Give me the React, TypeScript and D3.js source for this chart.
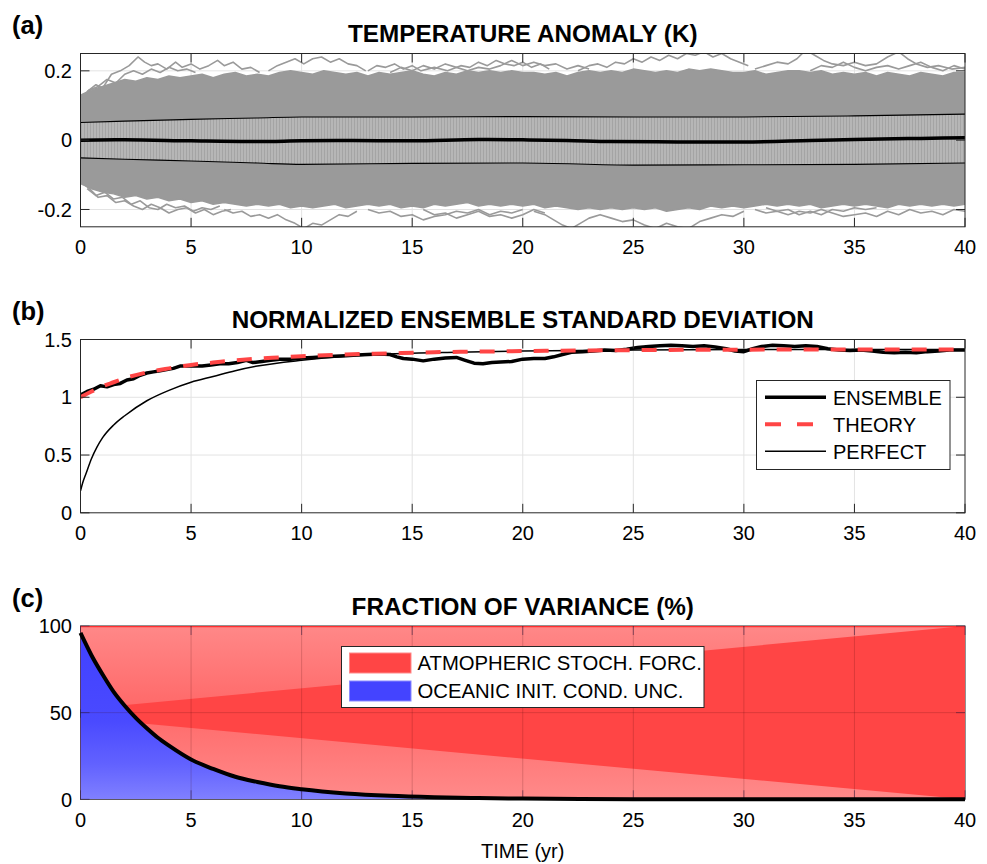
import React from 'react';
import * as d3 from 'd3';

const FONT = '"Liberation Sans", Arial, Helvetica, sans-serif';

// ---------------- data ----------------
const timeTicks = [0, 5, 10, 15, 20, 25, 30, 35, 40];
const tempTicks = [-0.2, 0, 0.2];
const tempTickLabels = ['-0.2', '0', '0.2'];
const stdTicks = [0, 0.5, 1, 1.5];
const stdTickLabels = ['0', '0.5', '1', '1.5'];
const fracTicks = [0, 50, 100];
const fracTickLabels = ['0', '50', '100'];

// (a) envelope of the ensemble members, sampled every 0.5 yr
const envStep = 0.5;
const upperEnv = [
  0.13, 0.145, 0.155, 0.165, 0.175, 0.17, 0.18, 0.175, 0.185, 0.18,
  0.185, 0.19, 0.18, 0.19, 0.195, 0.185, 0.19, 0.185, 0.195, 0.2,
  0.195, 0.19, 0.2, 0.195, 0.19, 0.195, 0.185, 0.195, 0.19, 0.195,
  0.2, 0.19, 0.185, 0.195, 0.19, 0.2, 0.195, 0.2, 0.195, 0.2,
  0.195, 0.195, 0.19, 0.195, 0.185, 0.195, 0.2, 0.195, 0.2, 0.195,
  0.205, 0.2, 0.195, 0.2, 0.195, 0.205, 0.2, 0.205, 0.2, 0.195,
  0.195, 0.2, 0.19, 0.195, 0.2, 0.2, 0.195, 0.2, 0.19, 0.195,
  0.19, 0.195, 0.185, 0.195, 0.19, 0.185, 0.195, 0.19, 0.185, 0.195,
  0.195,
];
const lowerEnv = [
  -0.125, -0.14, -0.15, -0.155, -0.165, -0.16, -0.17, -0.165, -0.175, -0.17,
  -0.18, -0.175, -0.185, -0.18, -0.185, -0.19, -0.185, -0.19, -0.185, -0.195,
  -0.19, -0.195, -0.19, -0.185, -0.195, -0.19, -0.185, -0.19, -0.185, -0.195,
  -0.19, -0.195, -0.185, -0.19, -0.185, -0.18, -0.19, -0.185, -0.19, -0.185,
  -0.19, -0.185, -0.195, -0.19, -0.195, -0.2, -0.195, -0.2, -0.195, -0.2,
  -0.195, -0.2, -0.195, -0.205, -0.2, -0.195, -0.2, -0.19, -0.195, -0.19,
  -0.195, -0.19, -0.185, -0.19, -0.185, -0.19, -0.185, -0.195, -0.19, -0.185,
  -0.19, -0.185, -0.19, -0.195, -0.185, -0.19, -0.185, -0.19, -0.185, -0.19,
  -0.185,
];
// (a) extreme members poking out of the envelope
const memberTop1 = [[0.3,0.14],[0.7,0.16],[1.0,0.15],[1.4,0.19],[1.8,0.2],[2.2,0.215],[2.6,0.24],[2.9,0.225],[3.2,0.215],[3.5,0.22],[3.9,0.205],[4.3,0.225],[4.6,0.21],[5.0,0.22],[5.4,0.205],[5.8,0.215],[6.2,0.23],[6.5,0.215],[6.9,0.225],[7.3,0.205],[7.7,0.21],[8.1,0.195]];
const memberTop2 = [[8.5,0.2],[8.9,0.215],[9.3,0.225],[9.7,0.235],[10.1,0.22],[10.5,0.235],[10.9,0.24],[11.3,0.225],[11.7,0.235],[12.1,0.22],[12.5,0.215],[12.9,0.2]];
const memberTop3 = [[13.0,0.2],[13.4,0.215],[13.8,0.21],[14.2,0.22],[14.6,0.205],[15.0,0.215],[15.4,0.2],[16.0,0.21],[16.6,0.2],[17.2,0.215],[17.6,0.21],[18.0,0.225],[18.4,0.215],[18.8,0.23],[19.2,0.22],[19.6,0.215],[20.0,0.225],[20.4,0.21],[20.8,0.22],[21.2,0.205]];
const memberTop4 = [[22.5,0.2],[23.0,0.215],[23.4,0.22],[23.8,0.21],[24.2,0.225],[24.6,0.22],[25.0,0.235],[25.4,0.225],[25.8,0.24],[26.2,0.23],[26.6,0.245],[27.0,0.235],[27.4,0.25],[27.8,0.245],[28.2,0.255],[28.6,0.24],[29.0,0.25],[29.4,0.235],[29.8,0.225],[30.2,0.215]];
const memberTop5 = [[30.5,0.205],[31.0,0.215],[31.5,0.225],[32.0,0.22],[32.4,0.235],[32.8,0.26],[33.2,0.245],[33.6,0.23],[34.0,0.22],[34.5,0.215],[35.0,0.225],[35.5,0.215],[36.0,0.22],[36.5,0.24],[37.0,0.255],[37.4,0.235],[37.8,0.22],[38.3,0.21],[38.8,0.215],[39.4,0.205],[40,0.21]];
const memberTop6 = [[0,0.12],[0.4,0.145],[0.8,0.155],[1.2,0.175],[1.6,0.165],[2.0,0.19],[2.4,0.2],[2.8,0.19],[3.2,0.205],[3.6,0.195],[4.0,0.21],[4.4,0.2],[4.8,0.205],[5.2,0.195]];
const memberTop7 = [[14,0.195],[14.5,0.21],[15,0.2],[15.5,0.215],[16,0.205],[16.5,0.22],[17,0.21],[17.5,0.2],[18,0.21],[18.5,0.205],[19,0.215],[19.5,0.23],[20,0.215],[20.5,0.225],[21,0.215],[21.5,0.22],[22,0.205],[22.5,0.215],[23,0.205]];
const memberTop8 = [[33,0.2],[33.5,0.215],[34,0.21],[34.5,0.225],[35,0.21],[35.5,0.2],[36,0.21],[36.5,0.215],[37,0.205],[37.5,0.215],[38,0.225],[38.5,0.21],[39,0.2],[39.5,0.215],[40,0.205]];
const memberBot1 = [[0.3,-0.14],[0.7,-0.16],[1.1,-0.15],[1.5,-0.17],[1.9,-0.165],[2.3,-0.185],[2.7,-0.175],[3.1,-0.195],[3.5,-0.2],[3.9,-0.185],[4.3,-0.195],[4.7,-0.19],[5.1,-0.205],[5.5,-0.195],[5.9,-0.2],[6.3,-0.19]];
const memberBot2 = [[6.5,-0.2],[6.9,-0.21],[7.3,-0.205],[7.7,-0.22],[8.1,-0.215],[8.5,-0.225],[8.9,-0.215],[9.3,-0.23],[9.7,-0.24],[10.1,-0.255],[10.5,-0.24],[10.9,-0.245],[11.3,-0.23],[11.7,-0.215],[12.1,-0.22],[12.5,-0.205]];
const memberBot3 = [[13,-0.2],[13.5,-0.21],[14,-0.205],[14.5,-0.22],[15,-0.215],[15.5,-0.23],[16,-0.22],[16.5,-0.215],[17,-0.205],[17.5,-0.21],[18,-0.2],[18.5,-0.215],[19,-0.205],[19.5,-0.21],[20,-0.2]];
const memberBot4 = [[20.5,-0.205],[21,-0.215],[21.4,-0.23],[21.8,-0.245],[22.2,-0.255],[22.6,-0.24],[23,-0.225],[23.5,-0.215],[24,-0.225],[24.5,-0.235],[25,-0.23],[25.5,-0.245],[26,-0.255],[26.5,-0.24],[27,-0.25],[27.5,-0.255],[28,-0.235],[28.5,-0.225],[29,-0.215],[29.5,-0.22],[30,-0.205]];
const memberBot5 = [[30.5,-0.2],[31,-0.21],[31.5,-0.205],[32,-0.215],[32.5,-0.205],[33,-0.21],[33.5,-0.2],[34,-0.21],[34.5,-0.22],[35,-0.215],[35.5,-0.21],[36,-0.22],[36.5,-0.205],[37,-0.215],[37.5,-0.2],[38,-0.21],[38.5,-0.205],[39,-0.215],[39.5,-0.2],[40,-0.205]];
const memberBot6 = [[0,-0.12],[0.4,-0.14],[0.8,-0.165],[1.2,-0.16],[1.6,-0.18],[2,-0.175],[2.4,-0.19],[2.8,-0.2],[3.2,-0.185],[3.6,-0.195],[4,-0.21],[4.4,-0.2],[4.8,-0.195],[5.2,-0.21],[5.6,-0.2],[6,-0.215],[6.4,-0.205],[6.8,-0.2]];
const memberBot7 = [[15.5,-0.2],[16,-0.215],[16.5,-0.21],[17,-0.225],[17.5,-0.215],[18,-0.205],[18.5,-0.22],[19,-0.215],[19.5,-0.225],[20,-0.215],[20.5,-0.2],[21,-0.21]];
const memberBot8 = [[31,-0.195],[31.5,-0.205],[32,-0.2],[32.5,-0.215],[33,-0.205],[33.5,-0.215],[34,-0.2],[34.5,-0.205],[35,-0.195],[35.5,-0.2],[36,-0.195]];
const extremeMembers = [memberTop1, memberTop2, memberTop3, memberTop4, memberTop5, memberTop6, memberTop7, memberTop8,
  memberBot1, memberBot2, memberBot3, memberBot4, memberBot5, memberBot6, memberBot7, memberBot8];

// (a) ensemble mean and +/- one standard deviation
const meanTemp = [[0,0],[2,0.001],[5,-0.002],[8,-0.004],[10,-0.002],[12,-0.001],[15,-0.002],[18,0.002],[20,0.001],[22,-0.001],[24,-0.004],[27,-0.005],[30,-0.005],[33,-0.001],[35,0.002],[38,0.005],[40,0.007]];
const stdTimes = [0, 2, 5, 8, 10, 15, 20, 25, 30, 35, 40];
const stdUpper = [0.051, 0.055, 0.06, 0.064, 0.067, 0.067, 0.068, 0.067, 0.067, 0.07, 0.075];
const stdLower = [-0.051, -0.055, -0.06, -0.066, -0.07, -0.067, -0.066, -0.072, -0.071, -0.07, -0.066];

// (b) normalized ensemble standard deviation
const ensembleStd = [[0,1.02],[0.3,1.05],[0.6,1.07],[0.9,1.1],[1.2,1.09],[1.5,1.11],[1.8,1.12],[2.1,1.15],[2.4,1.16],[2.7,1.19],[3,1.21],[3.3,1.22],[3.6,1.23],[3.9,1.24],[4.2,1.25],[4.5,1.27],[4.8,1.27],[5.1,1.27],[5.5,1.27],[5.9,1.28],[6.3,1.29],[6.7,1.29],[7.1,1.3],[7.5,1.32],[7.8,1.3],[8.2,1.31],[8.6,1.32],[9,1.33],[9.5,1.33],[10,1.34],[10.5,1.345],[11,1.35],[11.5,1.355],[12,1.36],[12.5,1.365],[13,1.37],[13.5,1.375],[14,1.37],[14.3,1.35],[14.6,1.335],[15,1.33],[15.5,1.315],[16,1.33],[16.5,1.34],[17,1.345],[17.4,1.32],[17.8,1.295],[18.2,1.29],[18.6,1.3],[19,1.305],[19.5,1.31],[20,1.33],[20.5,1.335],[21,1.335],[21.4,1.35],[21.8,1.37],[22.2,1.39],[22.7,1.395],[23.2,1.4],[23.7,1.41],[24.2,1.405],[24.7,1.415],[25.2,1.43],[25.7,1.44],[26.2,1.445],[26.7,1.45],[27.2,1.445],[27.7,1.44],[28.2,1.445],[28.7,1.435],[29.2,1.42],[29.6,1.4],[30,1.395],[30.4,1.42],[30.8,1.44],[31.3,1.45],[31.8,1.445],[32.3,1.44],[32.8,1.445],[33.3,1.44],[33.8,1.42],[34.3,1.41],[34.8,1.405],[35.3,1.41],[35.8,1.4],[36.3,1.39],[36.8,1.385],[37.3,1.39],[37.8,1.385],[38.3,1.395],[38.8,1.4],[39.3,1.41],[40,1.41]];
const theoryStd = [[0,1.0],[0.5,1.05],[1,1.095],[1.5,1.13],[2,1.165],[3,1.215],[4,1.25],[5,1.28],[6,1.3],[7,1.32],[8,1.335],[9,1.345],[10,1.355],[12,1.37],[14,1.38],[16,1.39],[18,1.395],[20,1.4],[25,1.408],[30,1.412],[35,1.414],[40,1.414]];
const perfectStd = [[0,0.19],[0.1,0.26],[0.25,0.34],[0.5,0.47],[0.75,0.57],[1,0.65],[1.5,0.76],[2,0.84],[3,0.97],[4,1.06],[5,1.13],[6,1.18],[7,1.23],[8,1.27],[10,1.32],[12,1.355],[14,1.375],[17,1.39],[20,1.4],[25,1.41],[30,1.413],[40,1.414]];

// (c) fraction of variance from oceanic initial conditions (%)
const oceanicFraction = [[0,96],[0.5,83],[1,72],[1.5,62],[2,54],[2.5,47],[3,41],[3.5,35.5],[4,31],[5,23],[6,17.5],[7,13],[8,10],[9,7.5],[10,5.8],[12,3.4],[14,2],[16,1.2],[18,0.7],[20,0.4],[25,0.1],[30,0.03],[35,0.01],[40,0]];
const fanTopEdge = [[0,100],[40,100],[0,52]];
const fanBottomEdge = [[0,0],[40,0],[0,47]];

const titles = ['TEMPERATURE ANOMALY (K)', 'NORMALIZED ENSEMBLE STANDARD DEVIATION', 'FRACTION OF VARIANCE (%)'];
const panelLabels = ['(a)', '(b)', '(c)'];
const legendB = ['ENSEMBLE', 'THEORY', 'PERFECT'];
const legendC = ['ATMOPHERIC STOCH. FORC.', 'OCEANIC INIT. COND. UNC.'];

// ---------------- layout ----------------
const L = 80.5, R = 965;
const TOPS = [53.5, 339.5, 626];
const PH = 173.3;
const AX = '#262626';
const GRAY = '#9a9a9a';
const RED = '#ff4545';
const BLUE = '#4444ff';
const TICK = 9;

const x = d3.scaleLinear().domain([0, 40]).range([L, R]);
const yA = d3.scaleLinear().domain([-0.25, 0.25]).range([TOPS[0] + PH, TOPS[0]]);
const yB = d3.scaleLinear().domain([0, 1.5]).range([TOPS[1] + PH, TOPS[1]]);
const yC = d3.scaleLinear().domain([0, 100]).range([TOPS[2] + PH, TOPS[2]]);

type Pt = number[];

function grid(y: d3.ScaleLinear<number, number>, yTicks: number[], top: number, stroke: string) {
  const bottom = top + PH;
  return (
    <g stroke={stroke} strokeWidth={1}>
      {timeTicks.filter(t => t > 0 && t < 40).map(t => (
        <line key={'gx' + t} x1={x(t)} x2={x(t)} y1={top} y2={bottom} />
      ))}
      {yTicks.filter(v => y(v) > top + 1 && y(v) < bottom - 1).map(v => (
        <line key={'gy' + v} x1={L} x2={R} y1={y(v)} y2={y(v)} />
      ))}
    </g>
  );
}

function ticks(y: d3.ScaleLinear<number, number>, yTicks: number[], top: number, stroke: string) {
  const bottom = top + PH;
  return (
    <g stroke={stroke} strokeWidth={1}>
      {timeTicks.map(t => (
        <g key={'tx' + t}>
          <line x1={x(t)} x2={x(t)} y1={bottom} y2={bottom - TICK} />
          <line x1={x(t)} x2={x(t)} y1={top} y2={top + TICK} />
        </g>
      ))}
      {yTicks.map(v => (
        <g key={'ty' + v}>
          <line x1={L} x2={L + TICK} y1={y(v)} y2={y(v)} />
          <line x1={R} x2={R - TICK} y1={y(v)} y2={y(v)} />
        </g>
      ))}
    </g>
  );
}

function labels(y: d3.ScaleLinear<number, number>, yTicks: number[], yLabels: string[], top: number, idx: number) {
  const bottom = top + PH;
  return (
    <g fontFamily={FONT} fill="#000">
      {timeTicks.map(t => (
        <text key={'lx' + t} x={x(t)} y={bottom + 27.5} textAnchor="middle" fontSize={20}>{t}</text>
      ))}
      {yTicks.map((v, i) => (
        <text key={'ly' + v} x={L - 8.5} y={y(v)} dy="0.36em" textAnchor="end" fontSize={20}>{yLabels[i]}</text>
      ))}
      <text x={(L + R) / 2} y={top - 11.5} textAnchor="middle" fontSize={24.3} fontWeight="bold">{titles[idx]}</text>
      <text x={12} y={top - 19.5} fontSize={25.5} fontWeight="bold">{panelLabels[idx]}</text>
    </g>
  );
}

export default function App() {
  // ----- panel a -----
  const envData = upperEnv.map((u, i) => ({ t: i * envStep, u, l: lowerEnv[i] }));
  const envArea = d3.area<any>().x(d => x(d.t)).y0(d => yA(d.l)).y1(d => yA(d.u));
  const lineA = d3.line<Pt>().x(d => x(d[0])).y(d => yA(d[1]));
  const stdData = stdTimes.map((t, i) => ({ t, u: stdUpper[i], l: stdLower[i] }));
  const stdArea = d3.area<any>().x(d => x(d.t)).y0(d => yA(d.l)).y1(d => yA(d.u)).curve(d3.curveMonotoneX);
  const stdUpLine = d3.line<any>().x(d => x(d.t)).y(d => yA(d.u)).curve(d3.curveMonotoneX);
  const stdLoLine = d3.line<any>().x(d => x(d.t)).y(d => yA(d.l)).curve(d3.curveMonotoneX);
  const meanLine = d3.line<Pt>().x(d => x(d[0])).y(d => yA(d[1])).curve(d3.curveMonotoneX);

  // ----- panel b -----
  const lineB = d3.line<Pt>().x(d => x(d[0])).y(d => yB(d[1]));
  const smoothB = d3.line<Pt>().x(d => x(d[0])).y(d => yB(d[1])).curve(d3.curveMonotoneX);

  // ----- panel c -----
  const redArea = d3.area<Pt>().x(d => x(d[0])).y0(() => yC(100)).y1(d => yC(d[1])).curve(d3.curveMonotoneX);
  const blueArea = d3.area<Pt>().x(d => x(d[0])).y0(() => yC(0)).y1(d => yC(d[1])).curve(d3.curveMonotoneX);
  const fracLine = d3.line<Pt>().x(d => x(d[0])).y(d => yC(d[1])).curve(d3.curveMonotoneX);
  const poly = (pts: Pt[]) => 'M' + pts.map(p => `${x(p[0])},${yC(p[1])}`).join('L') + 'Z';

  const legBx = 756.5, legBy = 380.5;
  const legCx = 341.5, legCy = 646.5;

  return (
    <svg width={987} height={864} style={{ position: 'absolute', left: 0, top: 0, background: '#fff' }}>
      <defs>
        {TOPS.map((t, i) => (
          <clipPath key={i} id={'clip' + i}>
            <rect x={L} y={t} width={R - L} height={PH} />
          </clipPath>
        ))}
        <pattern id="stripes" width={3} height={10} patternUnits="userSpaceOnUse">
          <rect width={3} height={10} fill="#b6b6b6" />
          <rect width={1} height={10} fill="#a4a4a4" />
        </pattern>
        <linearGradient id="fanTopGrad" gradientUnits="userSpaceOnUse" x1={0} x2={0} y1={yC(100)} y2={yC(55)}>
          <stop offset="0" stopColor="#ff8888" />
          <stop offset="1" stopColor="#ff6a6a" />
        </linearGradient>
        <linearGradient id="fanBotGrad" gradientUnits="userSpaceOnUse" x1={0} x2={0} y1={yC(0)} y2={yC(47)}>
          <stop offset="0" stopColor="#ff8a8a" />
          <stop offset="1" stopColor="#ff6c6c" />
        </linearGradient>
        <linearGradient id="blueGrad" gradientUnits="userSpaceOnUse" x1={0} x2={0} y1={yC(100)} y2={yC(0)}>
          <stop offset="0" stopColor="#4040ff" />
          <stop offset="0.55" stopColor="#4a4aff" />
          <stop offset="0.8" stopColor="#6262ff" />
          <stop offset="1" stopColor="#8080ff" />
        </linearGradient>
      </defs>

      {/* ================= (a) ================= */}
      {grid(yA, tempTicks, TOPS[0], '#e3e3e3')}
      <g clipPath="url(#clip0)">
        <path d={envArea(envData) || ''} fill={GRAY} stroke={GRAY} strokeWidth={1.5} strokeLinejoin="round" />
        {extremeMembers.map((m, i) => (
          <path key={i} d={lineA(m) || ''} fill="none" stroke={GRAY} strokeWidth={1.6} strokeLinejoin="round" />
        ))}
        <path d={stdArea(stdData) || ''} fill="url(#stripes)" />
        <path d={stdUpLine(stdData) || ''} fill="none" stroke="#000" strokeWidth={1.1} />
        <path d={stdLoLine(stdData) || ''} fill="none" stroke="#000" strokeWidth={1.1} />
        <path d={meanLine(meanTemp) || ''} fill="none" stroke="#000" strokeWidth={3.5} />
      </g>
      <rect x={L} y={TOPS[0]} width={R - L} height={PH} fill="none" stroke={AX} strokeWidth={1} />
      {ticks(yA, tempTicks, TOPS[0], AX)}
      {labels(yA, tempTicks, tempTickLabels, TOPS[0], 0)}

      {/* ================= (b) ================= */}
      {grid(yB, stdTicks, TOPS[1], '#e3e3e3')}
      <g clipPath="url(#clip1)">
        <path d={smoothB(perfectStd) || ''} fill="none" stroke="#000" strokeWidth={1.5} />
        <path d={lineB(ensembleStd) || ''} fill="none" stroke="#000" strokeWidth={3.5} strokeLinejoin="round" />
        <path d={smoothB(theoryStd) || ''} fill="none" stroke={RED} strokeWidth={4} strokeDasharray="15 12" />
      </g>
      <rect x={L} y={TOPS[1]} width={R - L} height={PH} fill="none" stroke={AX} strokeWidth={1} />
      {ticks(yB, stdTicks, TOPS[1], AX)}
      {labels(yB, stdTicks, stdTickLabels, TOPS[1], 1)}
      <g fontFamily={FONT} fontSize={20}>
        <rect x={legBx} y={legBy} width={193.5} height={89} fill="#fff" stroke={AX} strokeWidth={1} />
        {legendB.map((name, i) => {
          const cy = legBy + 16.8 + i * 27;
          return (
            <g key={name}>
              {i === 0 && <line x1={legBx + 8.5} x2={legBx + 69.5} y1={cy} y2={cy} stroke="#000" strokeWidth={3.5} />}
              {i === 1 && <line x1={legBx + 8.5} x2={legBx + 69.5} y1={cy} y2={cy} stroke={RED} strokeWidth={4} strokeDasharray="16 16" />}
              {i === 2 && <line x1={legBx + 8.5} x2={legBx + 69.5} y1={cy} y2={cy} stroke="#000" strokeWidth={1.5} />}
              <text x={legBx + 76.5} y={cy} dy="0.36em" fill="#000">{name}</text>
            </g>
          );
        })}
      </g>

      {/* ================= (c) ================= */}
      <rect x={L} y={TOPS[2]} width={R - L} height={PH} fill="none" stroke={AX} strokeWidth={1} />
      <g clipPath="url(#clip2)">
        <path d={redArea(oceanicFraction) || ''} fill={RED} />
        <path d={poly(fanTopEdge)} fill="url(#fanTopGrad)" />
        <path d={poly(fanBottomEdge)} fill="url(#fanBotGrad)" />
        <path d={blueArea(oceanicFraction) || ''} fill="url(#blueGrad)" />
        <line x1={L} x2={R} y1={TOPS[2] + 0.5} y2={TOPS[2] + 0.5} stroke="#ff3030" strokeWidth={1.5} />
      </g>
      {grid(yC, fracTicks, TOPS[2], 'rgba(60,0,0,0.18)')}
      {ticks(yC, fracTicks, TOPS[2], 'rgba(40,20,60,0.5)')}
      <path d={fracLine(oceanicFraction) || ''} fill="none" stroke="#000" strokeWidth={4} />
      {labels(yC, fracTicks, fracTickLabels, TOPS[2], 2)}
      <g fontFamily={FONT} fontSize={20.3}>
        <rect x={legCx} y={legCy} width={362.5} height={61} fill="#fff" stroke={AX} strokeWidth={1} />
        {legendC.map((name, i) => {
          const cy = legCy + 16.5 + i * 28;
          return (
            <g key={name}>
              <rect x={legCx + 8} y={cy - 10} width={61.5} height={20} fill={i === 0 ? RED : BLUE} stroke={i === 0 ? '#ff8a8a' : '#8a8aff'} strokeWidth={1} />
              <text x={legCx + 76} y={cy} dy="0.36em" fill="#000">{name}</text>
            </g>
          );
        })}
      </g>
      <text x={(L + R) / 2} y={858} textAnchor="middle" fontFamily={FONT} fontSize={20}>TIME (yr)</text>
    </svg>
  );
}
